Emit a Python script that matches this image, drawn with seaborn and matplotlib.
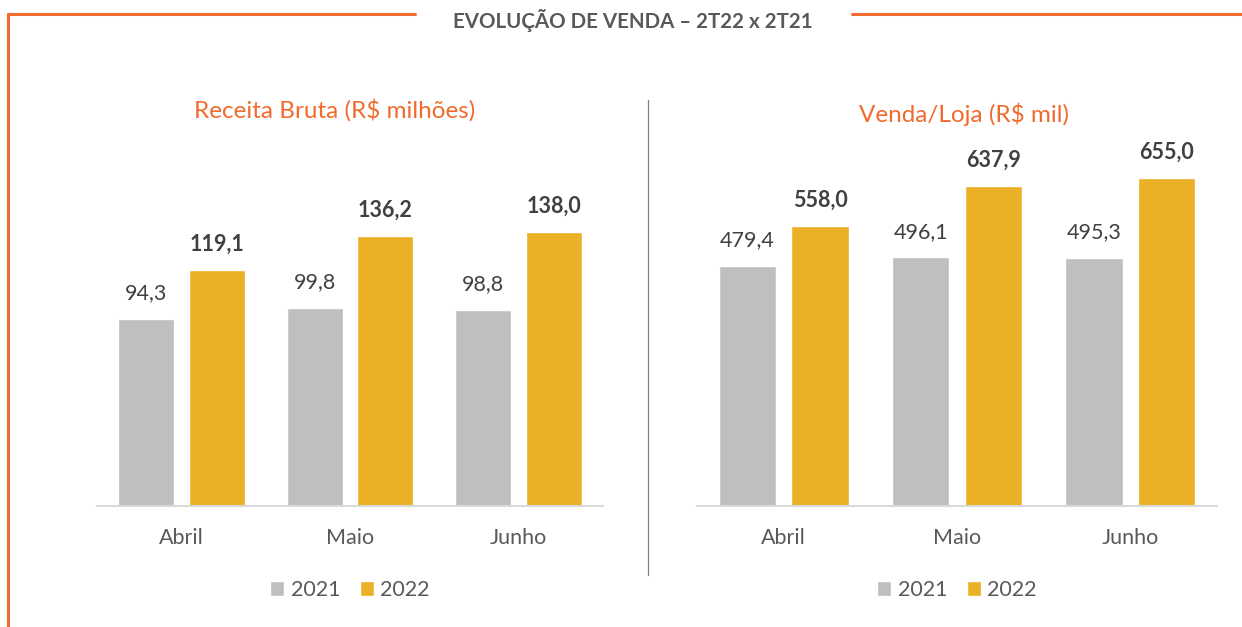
import numpy as np
import pandas as pd
import matplotlib.pyplot as plt
import seaborn as sns
from matplotlib.lines import Line2D

W, H = 1242, 627

# --- Data ---------------------------------------------------------------
meses = ['Abril', 'Maio', 'Junho']
anos = ['2021', '2022']
receita_2021 = [94.3, 99.8, 98.8]
receita_2022 = [119.1, 136.2, 138.0]
venda_loja_2021 = [479.4, 496.1, 495.3]
venda_loja_2022 = [558.0, 637.9, 655.0]

# --- Style --------------------------------------------------------------
CINZA = '#BFBFBF'
OURO = '#EAB026'
LARANJA = '#F06B2D'
TEXTO = '#595959'
ROTULO = '#404040'

sns.set_theme(style='white')
plt.rcParams['font.family'] = ['Lato', 'DejaVu Sans']


def px(x0, y0, x1, y1):
    # pixel box (top-left origin) -> figure fraction rect
    return [x0 / W, 1 - y1 / H, (x1 - x0) / W, (y1 - y0) / H]


def fmt(v):
    return f'{v:.1f}'.replace('.', ',')


def painel(ax, v21, v22, titulo, ymax, tx, ty):
    df = pd.DataFrame({
        'mes': meses * 2,
        'ano': [anos[0]] * len(meses) + [anos[1]] * len(meses),
        'valor': v21 + v22,
    })
    sns.barplot(data=df, x='mes', y='valor', hue='ano', palette=[CINZA, OURO],
                width=0.84, gap=0.21, ax=ax, saturation=1)
    ax.set_ylim(0, ymax)
    ax.set_xlim(-0.5, 2.5)

    ax.bar_label(ax.containers[0], labels=[fmt(v) for v in v21], padding=11,
                 fontsize=15.5, color=ROTULO)
    ax.bar_label(ax.containers[1], labels=[fmt(v) for v in v22], padding=11,
                 fontsize=15.5, color=ROTULO, fontweight='bold')

    ax.set_xlabel('')
    ax.set_ylabel('')
    ax.set_yticks([])
    for s in ['top', 'left', 'right']:
        ax.spines[s].set_visible(False)
    ax.spines['bottom'].set_color('#D9D9D9')
    ax.spines['bottom'].set_linewidth(1.5)
    ax.tick_params(axis='x', length=0, pad=16, labelsize=15.5, labelcolor=TEXTO)

    ax.text(tx, ty, titulo, transform=ax.transAxes, ha='center', va='center',
            fontsize=17.5, color=LARANJA)

    ax.legend(loc='center', bbox_to_anchor=(0.5, -0.236), ncol=2, frameon=False,
              fontsize=15.5, handlelength=0.65, handleheight=0.65, handletextpad=0.3,
              columnspacing=0.9, labelcolor=TEXTO)


fig = plt.figure(figsize=(W / 100, H / 100), dpi=100)

ax1 = fig.add_axes(px(97, 150, 603, 506))
painel(ax1, receita_2021, receita_2022, 'Receita Bruta (R$ milhões)', 179.3, 0.47, 1.112)

ax2 = fig.add_axes(px(697, 150, 1217, 506))
painel(ax2, venda_loja_2021, venda_loja_2022, 'Venda/Loja (R$ mil)', 710, 0.513, 1.101)

# frame and header
y_top = 1 - 14 / H
fig.add_artist(Line2D([7.5 / W, 415 / W], [y_top, y_top], color=LARANJA, lw=2.2))
fig.add_artist(Line2D([852 / W, 1.0], [y_top, y_top], color=LARANJA, lw=2.2))
fig.add_artist(Line2D([7.5 / W, 7.5 / W], [y_top, 0], color=LARANJA, lw=2.2))
fig.text(633 / W, 1 - 21 / H, 'EVOLUÇÃO DE VENDA – 2T22 x 2T21', ha='center', va='center',
         fontsize=14.8, fontweight='bold', color=TEXTO)

# separator between panels
fig.add_artist(Line2D([648 / W, 648 / W], [1 - 100 / H, 1 - 575 / H], color='#808080', lw=0.9))

fig.savefig('out.png', dpi=100)
